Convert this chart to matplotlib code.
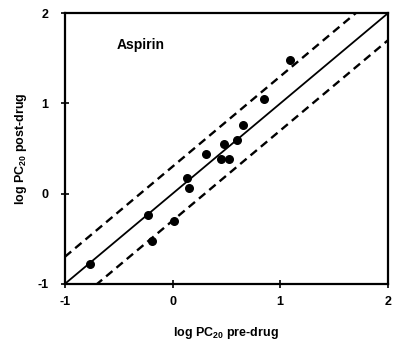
import matplotlib

matplotlib.use("Agg")
import matplotlib.pyplot as plt
import numpy as np

# log PC20 values
pre_drug = [-0.77, -0.23, -0.19, 0.01, 0.13, 0.15, 0.31, 0.45, 0.52, 0.48, 0.60, 0.65, 0.85, 1.09]
post_drug = [-0.78, -0.24, -0.53, -0.30, 0.17, 0.06, 0.44, 0.38, 0.38, 0.55, 0.60, 0.76, 1.05, 1.48]
band = 0.3          # dashed limits either side of identity
ticks = [-1, 0, 1, 2]
label = "Aspirin"

plt.rcParams["font.family"] = ["Liberation Sans", "DejaVu Sans"]
plt.rcParams["font.weight"] = "bold"
plt.rcParams["axes.unicode_minus"] = False
plt.rcParams["mathtext.fontset"] = "custom"
plt.rcParams["mathtext.bf"] = "Liberation Sans:bold"
plt.rcParams["mathtext.rm"] = "Liberation Sans:bold"
plt.rcParams["mathtext.default"] = "bf"

fig = plt.figure(figsize=(3.93, 3.40), dpi=100)
ax = fig.add_axes([0.165, 0.165, 0.822, 0.796])

line_x = np.array([-1.0, 2.0])
ax.plot(line_x, line_x, color="black", lw=1.3)
ax.plot(line_x, line_x + band, color="black", lw=1.7, ls=(0, (3.5, 2.2)))
ax.plot(line_x, line_x - band, color="black", lw=1.7, ls=(0, (3.5, 2.2)))
ax.scatter(pre_drug, post_drug, s=30, color="black", zorder=3)

ax.text(-0.52, 1.65, label, fontsize=10, fontweight="bold", ha="left", va="center")

ax.set_xlim(-1, 2)
ax.set_ylim(-1, 2)
ax.set_xticks(ticks)
ax.set_yticks(ticks)
ax.tick_params(direction="inout", length=6, width=1.2, labelsize=9)
ax.tick_params(axis="y", pad=9)
ax.tick_params(axis="x", pad=6)
for t in ax.get_xticklabels() + ax.get_yticklabels():
    t.set_fontweight("bold")
for sp in ax.spines.values():
    sp.set_linewidth(1.6)

ax.set_xlabel(r"log PC$_{20}$ pre-drug", fontsize=9, fontweight="bold", labelpad=12)
ax.set_ylabel(r"log PC$_{20}$ post-drug", fontsize=9, fontweight="bold", labelpad=6)

fig.savefig("out.png", dpi=100)
